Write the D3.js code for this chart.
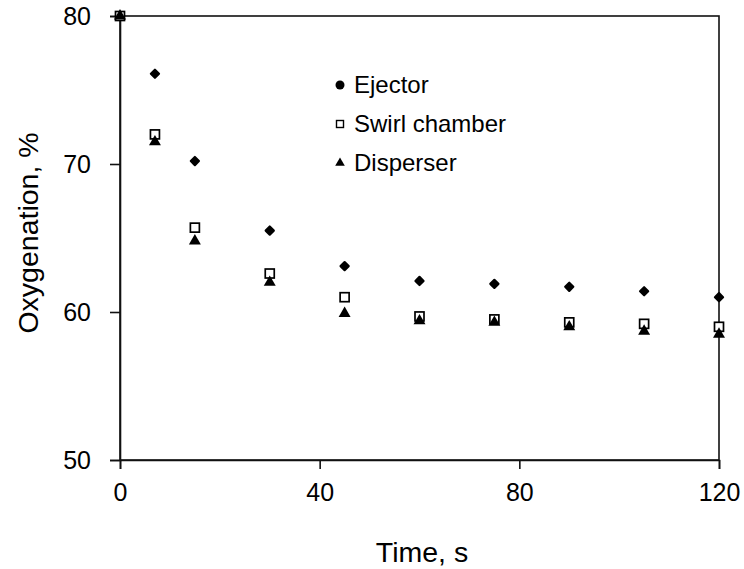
<!DOCTYPE html>
<html>
<head>
<meta charset="utf-8">
<script src="https://cdn.jsdelivr.net/npm/d3@7"></script>
<style>
  body { margin: 0; background: #fff; }
  svg text { font-family: Arial, "Liberation Sans", sans-serif; fill: #000; }
</style>
</head>
<body>
<svg id="chart" width="744" height="569"></svg>
<script>
// time points, s
const times = [0, 7, 15, 30, 45, 60, 75, 90, 105, 120];

// oxygenation, % for each device
const ejector   = [80, 76.1, 70.2, 65.5, 63.1, 62.1, 61.9, 61.7, 61.4, 61.0];
const swirl     = [80, 72.0, 65.7, 62.6, 61.0, 59.7, 59.5, 59.3, 59.2, 59.0];
const disperser = [80, 71.5, 64.8, 62.0, 59.9, 59.4, 59.3, 59.0, 58.7, 58.5];

const xTicks = [0, 40, 80, 120];
const yTicks = [50, 60, 70, 80];

const seriesNames = ["Ejector", "Swirl chamber", "Disperser"];

const svg = d3.select("#chart");

const plotLeft = 120, plotRight = 719, plotTop = 16, plotBottom = 460;

const xScale = d3.scaleLinear().domain([0, 120]).range([plotLeft, plotRight]);
const yScale = d3.scaleLinear().domain([50, 80]).range([plotBottom, plotTop]);

// plot frame (top + right border)
svg.append("rect")
    .attr("x", plotLeft)
    .attr("y", plotTop)
    .attr("width", plotRight - plotLeft)
    .attr("height", plotBottom - plotTop)
    .attr("fill", "none")
    .attr("stroke", "#111")
    .attr("stroke-width", 1.6);

// axes
const xAxis = svg.append("g")
    .attr("transform", `translate(0,${plotBottom})`)
    .call(d3.axisBottom(xScale).tickValues(xTicks).tickSize(9).tickPadding(14));

const yAxis = svg.append("g")
    .attr("transform", `translate(${plotLeft},0)`)
    .call(d3.axisLeft(yScale).tickValues(yTicks).tickSize(10).tickPadding(19));

[xAxis, yAxis].forEach(ax => {
    ax.select(".domain").attr("stroke", "#111").attr("stroke-width", 1.6);
    ax.selectAll(".tick line").attr("stroke", "#111").attr("stroke-width", 1.6);
    ax.selectAll(".tick text")
        .attr("font-size", 25)
        .attr("font-family", "Arial, 'Liberation Sans', sans-serif")
        .attr("fill", "#000");
});

// axis titles
svg.append("text")
    .attr("x", 422)
    .attr("y", 562)
    .attr("text-anchor", "middle")
    .attr("font-size", 28.5)
    .text("Time, s");

svg.append("text")
    .attr("transform", "translate(38,233) rotate(-90)")
    .attr("text-anchor", "middle")
    .attr("font-size", 28.5)
    .text("Oxygenation, %");

// markers
const diamond = d3.symbol().type(d3.symbolDiamond2).size(42);
const tri = d3.symbol().type(d3.symbolTriangle).size(62);

const points = (vals) => times.map((t, i) => ({ t, v: vals[i] }));

svg.append("g").selectAll("path")
    .data(points(ejector))
    .join("path")
    .attr("d", diamond)
    .attr("transform", d => `translate(${xScale(d.t)},${yScale(d.v)})`)
    .attr("fill", "#000")
    .attr("stroke", "#000")
    .attr("stroke-width", 2.2)
    .attr("stroke-linejoin", "round");

svg.append("g").selectAll("rect")
    .data(points(swirl))
    .join("rect")
    .attr("x", d => xScale(d.t) - 4.5)
    .attr("y", d => yScale(d.v) - 4.5)
    .attr("width", 9)
    .attr("height", 9)
    .attr("fill", "#fff")
    .attr("stroke", "#000")
    .attr("stroke-width", 1.7);

svg.append("g").selectAll("path")
    .data(points(disperser))
    .join("path")
    .attr("d", tri)
    .attr("transform", d => `translate(${xScale(d.t)},${yScale(d.v)})`)
    .attr("fill", "#000");

// legend
const legend = svg.append("g").attr("transform", "translate(340,85)");
const rowGap = 39;

legend.append("circle")
    .attr("cx", 0).attr("cy", 0).attr("r", 4.5)
    .attr("fill", "#000");
legend.append("rect")
    .attr("x", -3.5).attr("y", rowGap - 3.5)
    .attr("width", 7).attr("height", 7)
    .attr("fill", "#fff").attr("stroke", "#000").attr("stroke-width", 1.4);
legend.append("path")
    .attr("d", d3.symbol().type(d3.symbolTriangle).size(40))
    .attr("transform", `translate(0,${rowGap * 2})`)
    .attr("fill", "#000");

legend.selectAll("text")
    .data(seriesNames)
    .join("text")
    .attr("x", 14)
    .attr("y", (d, i) => i * rowGap)
    .attr("dy", "0.35em")
    .attr("font-size", 24)
    .text(d => d);
</script>
</body>
</html>
